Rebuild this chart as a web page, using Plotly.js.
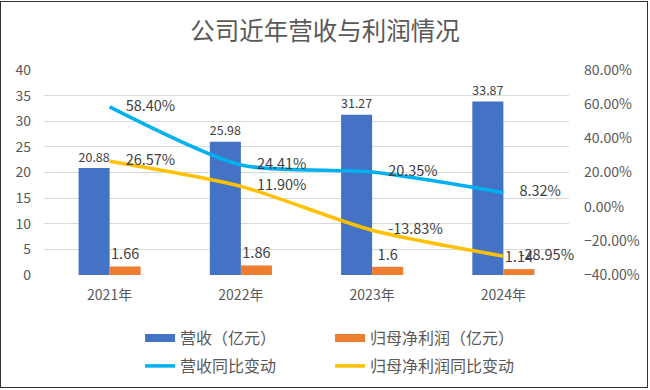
<!DOCTYPE html>
<html>
<head>
<meta charset="utf-8">
<script src="https://cdn.plot.ly/plotly-3.0.1.min.js"></script>
<style>
  html, body { margin: 0; padding: 0; background: #fff; }
  #wrap { position: relative; width: 650px; height: 390px; }
  #chart { width: 650px; height: 390px; }
  #frame { position: absolute; left: 0; top: 1px; width: 648px; height: 387px; border: 1.5px solid #333; pointer-events: none; box-sizing: border-box; }
</style>
</head>
<body>
<div id="wrap"><div id="chart"></div><div id="frame"></div></div>
<script>
const years = ['2021年', '2022年', '2023年', '2024年'];
const revenue = [20.88, 25.98, 31.27, 33.87];
const netProfit = [1.66, 1.86, 1.6, 1.14];
const revenueYoY = [0.5840, 0.2441, 0.2035, 0.0832];
const profitYoY = [0.2657, 0.1190, -0.1383, -0.2895];

const FONT = '"Noto Sans CJK SC", "Noto Sans", sans-serif';
const TXT = '#404040';
const BLUE = '#4472C4', ORANGE = '#ED7D31', LBLUE = '#00B0F0', GOLD = '#FFC000';
const CLEAR = 'rgba(0,0,0,0)';

const traces = [
  { type: 'bar', name: '营收（亿元）', x: years, y: revenue, marker: { color: BLUE },
    texttemplate: '%{y}', textposition: 'outside', cliponaxis: false,
    textfont: { family: FONT, size: 14.5, color: TXT }, showlegend: false, legendgroup: 'rev' },
  { type: 'bar', name: '归母净利润（亿元）', x: years, y: netProfit, marker: { color: ORANGE },
    texttemplate: '%{y}', textposition: 'outside', cliponaxis: false,
    textfont: { family: FONT, size: 14.5, color: TXT }, showlegend: false, legendgroup: 'np' },
  { type: 'scatter', name: '营收（亿元）', x: [null], y: [null], mode: 'lines',
    line: { color: BLUE, width: 8 }, legend: 'legend', legendgroup: 'rev', hoverinfo: 'skip' },
  { type: 'scatter', name: '归母净利润（亿元）', x: [null], y: [null], mode: 'lines',
    line: { color: ORANGE, width: 8 }, legend: 'legend', legendgroup: 'np', hoverinfo: 'skip' },
  { type: 'scatter', name: '营收同比变动', x: years, y: revenueYoY, yaxis: 'y2',
    mode: 'lines+markers+text', line: { color: LBLUE, width: 3.5, shape: 'spline', smoothing: 0.7 },
    marker: { size: 24, color: CLEAR, line: { width: 0 } },
    texttemplate: '%{y:.2%}', textposition: 'middle right', cliponaxis: false,
    textfont: { family: FONT, size: 14.5, color: TXT }, legend: 'legend2' },
  { type: 'scatter', name: '归母净利润同比变动', x: years, y: profitYoY, yaxis: 'y2',
    mode: 'lines+markers+text', line: { color: GOLD, width: 3.5, shape: 'spline', smoothing: 0.7 },
    marker: { size: 24, color: CLEAR, line: { width: 0 } },
    texttemplate: '%{y:.2%}', textposition: 'middle right', cliponaxis: false,
    textfont: { family: FONT, size: 14.5, color: TXT }, legend: 'legend2' }
];

const legendBase = {
  orientation: 'h', xanchor: 'left', yanchor: 'middle', entrywidth: 145,
  xref: 'paper', yref: 'container',
  font: { family: FONT, size: 16, color: '#595959' }, bgcolor: 'rgba(0,0,0,0)',
  itemclick: false, itemdoubleclick: false
};

const layout = {
  width: 650, height: 390,
  margin: { l: 44, r: 81, t: 70, b: 115, autoexpand: false },
  paper_bgcolor: '#fff', plot_bgcolor: '#fff',
  font: { family: FONT, color: '#595959' },
  title: { text: '公司近年营收与利润情况', x: 0.5, xanchor: 'center', y: 0.92, yanchor: 'middle',
           font: { family: FONT, size: 24.5, color: '#595959' } },
  barmode: 'group', bargap: 0.527, bargroupgap: 0,
  xaxis: { type: 'category', showgrid: false, zeroline: false, showline: false, ticks: '',
           tickfont: { family: FONT, size: 14, color: '#595959' }, ticklabelstandoff: 10 },
  yaxis: { range: [0, 40], dtick: 5, showgrid: true, gridcolor: '#d9d9d9', gridwidth: 1,
           zeroline: false, showline: false, ticks: '', ticklabelstandoff: 12,
           tickfont: { family: FONT, size: 14, color: '#595959' } },
  yaxis2: { overlaying: 'y', side: 'right', range: [-0.4, 0.8], dtick: 0.2, tickformat: '.2%',
            showgrid: false, zeroline: false, showline: false, ticks: '', ticklabelstandoff: 14,
            tickfont: { family: FONT, size: 14, color: '#595959' } },
  legend: Object.assign({}, legendBase, { x: 0.183, y: 0.133 }),
  legend2: Object.assign({}, legendBase, { x: 0.183, y: 0.0615 }),
  showlegend: true
};

Plotly.newPlot('chart', traces, layout, { displayModeBar: false, staticPlot: true });
</script>
</body>
</html>
